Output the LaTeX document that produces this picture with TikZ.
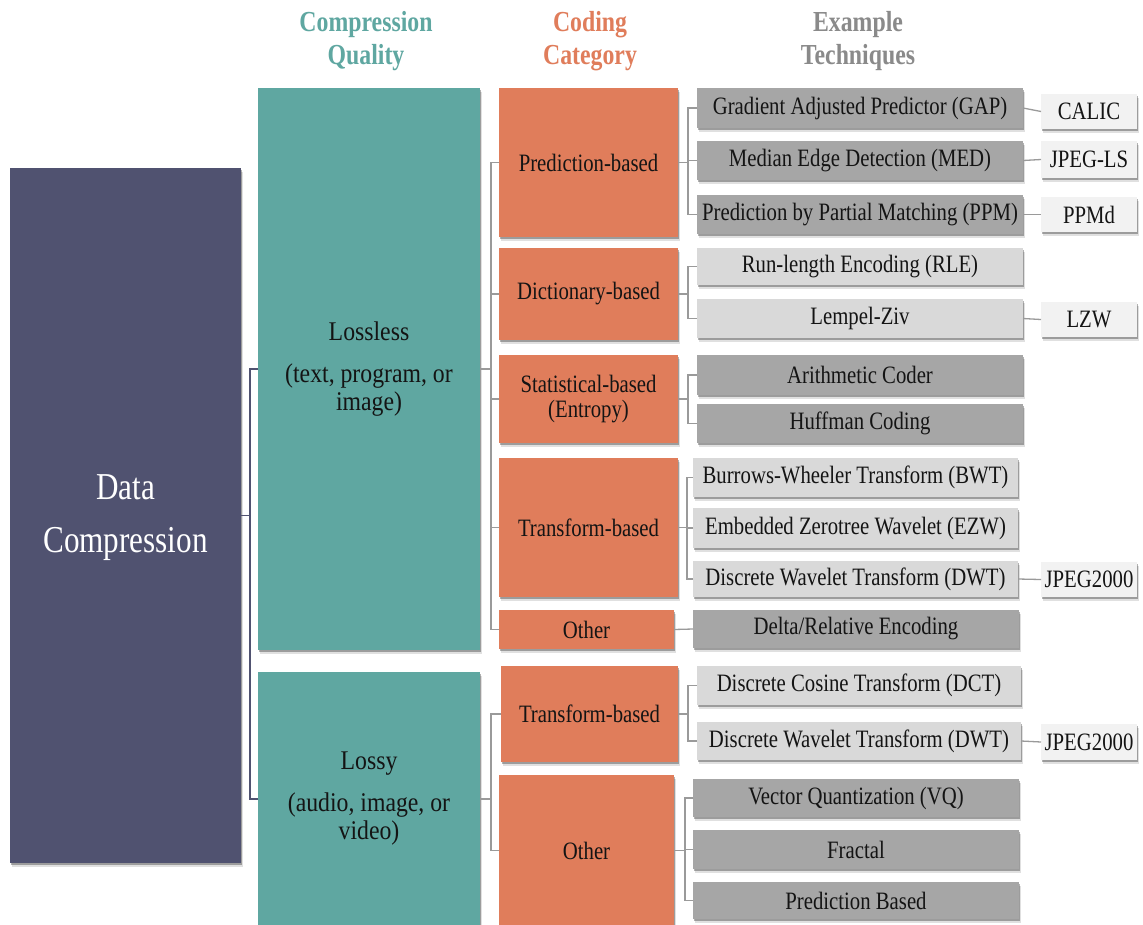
\documentclass[tikz,border=0pt]{standalone}
\usepackage{fontspec}
\setmainfont{Liberation Serif}
\newfontfamily\hdfont[FakeStretch=0.82]{Liberation Serif}
\newfontfamily\bodyfont[FakeStretch=0.83]{Liberation Serif}
\newfontfamily\midfont[FakeStretch=0.88]{Liberation Serif}
\newfontfamily\bigfont[FakeStretch=0.82]{Liberation Serif}
\usetikzlibrary{shadows}

\definecolor{dcpurple}{HTML}{505270}
\definecolor{qteal}{HTML}{5FA7A1}
\definecolor{corange}{HTML}{E07D5B}
\definecolor{tdark}{HTML}{A6A6A6}
\definecolor{tlight}{HTML}{D9D9D9}
\definecolor{outw}{HTML}{F2F2F2}
\definecolor{hgray}{HTML}{8A8A8A}
\definecolor{lnk}{HTML}{9A9A9A}
\definecolor{ink}{HTML}{141414}

% box placed by its corners: style, name, x1, y1, x2, y2, text
\newcommand\placebox[7]{%
  \node[#1, minimum width={#5-#3}, minimum height={#6-#4}] (#2)
    at ({(#3+#5)/2},{(#4+#6)/2}) {#7};}

\tikzset{
  shad/.style={
    drop shadow={shadow xshift=2pt, shadow yshift=-3.5pt, opacity=0.12, fill=black},
    drop shadow={shadow xshift=1.2pt, shadow yshift=-2pt, opacity=0.3, fill=black}},
  box/.style={inner sep=0pt, outer sep=0pt, align=center, shad, text=ink},
  dcbox/.style={box, fill=dcpurple, text=white, font=\bigfont\fontsize{38}{53}\selectfont},
  qbox/.style={box, fill=qteal, font=\midfont\fontsize{27}{28}\selectfont},
  cbox/.style={box, fill=corange, font=\bodyfont\fontsize{25}{25}\selectfont},
  tdbox/.style={box, fill=tdark, font=\bodyfont\fontsize{25}{25}\selectfont},
  tlbox/.style={box, fill=tlight, font=\bodyfont\fontsize{25}{25}\selectfont},
  obox/.style={box, fill=outw, font=\bodyfont\fontsize{25}{25}\selectfont},
  head/.style={align=center, inner sep=0pt, font=\hdfont\bfseries\fontsize{29}{33}\selectfont},
  conP/.style={draw=dcpurple, line width=1.5pt},
  conG/.style={draw=lnk, line width=1.3pt},
}

\begin{document}
\begin{tikzpicture}[x=1pt, y=-1pt]
\fill[white] (0,0) rectangle (1143,924);
\useasboundingbox (0,0) rectangle (1143,924);

% column headings
\node[head, text=qteal] (hq) at (366,41) {Compression\\Quality};
\node[head, text=corange] (hc) at (590,41) {Coding\\Category};
\node[head, text=hgray] (he) at (858,41) {Example\\Techniques};

% root
\placebox{dcbox}{dc}{10}{168}{241}{863}{\rule{0pt}{30pt}Data\\Compression}

% compression quality
\placebox{qbox}{lossless}{258}{88}{480}{650}{Lossless\\[14pt](text, program, or\\image)}
\placebox{qbox}{lossy}{258}{672}{480}{926}{Lossy\\[14pt](audio, image, or\\video)}

% coding categories
\placebox{cbox}{pred}{499}{88}{678}{237}{Prediction-based}
\placebox{cbox}{dict}{499}{248}{678}{340}{Dictionary-based}
\placebox{cbox}{stat}{499}{355}{678}{443}{Statistical-based\\(Entropy)}
\placebox{cbox}{trans}{499}{458}{678}{597}{Transform-based}
\placebox{cbox}{oth}{499}{610}{674}{649}{Other}
\placebox{cbox}{ltrans}{501}{666}{678}{762}{Transform-based}
\placebox{cbox}{loth}{499}{775}{674}{926}{Other}

% example techniques
\placebox{tdbox}{gap}{697}{88}{1023}{128}{Gradient Adjusted Predictor (GAP)}
\placebox{tdbox}{med}{697}{141}{1023}{180}{Median Edge Detection (MED)}
\placebox{tdbox}{ppm}{697}{195}{1023}{234}{Prediction by Partial Matching (PPM)}
\placebox{tlbox}{rle}{697}{248}{1023}{285}{Run-length Encoding (RLE)}
\placebox{tlbox}{lz}{697}{299}{1023}{338}{Lempel-Ziv}
\placebox{tdbox}{arith}{697}{355}{1023}{395}{Arithmetic Coder}
\placebox{tdbox}{huff}{697}{404}{1023}{443}{Huffman Coding}
\placebox{tlbox}{bwt}{693}{458}{1018}{497}{Burrows-Wheeler Transform (BWT)}
\placebox{tlbox}{ezw}{693}{508}{1018}{548}{Embedded Zerotree Wavelet (EZW)}
\placebox{tlbox}{dwt}{693}{561}{1018}{597}{Discrete Wavelet Transform (DWT)}
\placebox{tdbox}{delta}{693}{610}{1019}{648}{Delta/Relative Encoding}
\placebox{tlbox}{dct}{697}{666}{1021}{705}{Discrete Cosine Transform (DCT)}
\placebox{tlbox}{dwtb}{697}{722}{1021}{760}{Discrete Wavelet Transform (DWT)}
\placebox{tdbox}{vq}{693}{779}{1019}{817}{Vector Quantization (VQ)}
\placebox{tdbox}{frac}{693}{830}{1019}{869}{Fractal}
\placebox{tdbox}{pb}{693}{882}{1019}{919}{Prediction Based}

% standards
\placebox{obox}{calic}{1041}{94}{1137}{129}{CALIC}
\placebox{obox}{jls}{1041}{141}{1137}{178}{JPEG-LS}
\placebox{obox}{ppmd}{1041}{197}{1137}{232}{PPMd}
\placebox{obox}{lzw}{1041}{302}{1137}{337}{LZW}
\placebox{obox}{jpa}{1041}{562}{1137}{597}{JPEG2000}
\placebox{obox}{jpb}{1041}{724}{1137}{760}{JPEG2000}

% root -> quality
\coordinate (jq) at (250,515.5);
\draw[conP] (dc.east) -- (jq);
\draw[conP] (lossless.west) -| (jq);
\draw[conP] (lossy.west) -| (jq);

% quality -> categories
\coordinate (jc1) at (491,369);
\draw[conG] (lossless.east) -- (jc1);
\foreach \c in {pred,dict,stat,trans,oth} \draw[conG] (\c.west) -| (jc1);
\coordinate (jc2) at (491,799);
\draw[conG] (lossy.east) -- (jc2);
\foreach \c in {ltrans,loth} \draw[conG] (\c.west) -| (jc2);

% categories -> techniques
\draw[conG] (pred.east) -- ++(10,0) coordinate (jt1);
\foreach \t in {gap,med,ppm} \draw[conG] (\t.west) -| (jt1);
\draw[conG] (dict.east) -- ++(10,0) coordinate (jt2);
\foreach \t in {rle,lz} \draw[conG] (\t.west) -| (jt2);
\draw[conG] (stat.east) -- ++(10,0) coordinate (jt3);
\foreach \t in {arith,huff} \draw[conG] (\t.west) -| (jt3);
\draw[conG] (trans.east) -- ++(9,0) coordinate (jt4);
\foreach \t in {bwt,ezw,dwt} \draw[conG] (\t.west) -| (jt4);
\draw[conG] (oth.east) -- (delta.west);
\draw[conG] (ltrans.east) -- ++(10,0) coordinate (jt5);
\foreach \t in {dct,dwtb} \draw[conG] (\t.west) -| (jt5);
\draw[conG] (loth.east) -- ++(11,0) coordinate (jt6);
\foreach \t in {vq,frac,pb} \draw[conG] (\t.west) -| (jt6);

% techniques -> standards
\draw[conG] (gap.east) -- (calic.west);
\draw[conG] (med.east) -- (jls.west);
\draw[conG] (ppm.east) -- (ppmd.west);
\draw[conG] (lz.east) -- (lzw.west);
\draw[conG] (dwt.east) -- (jpa.west);
\draw[conG] (dwtb.east) -- (jpb.west);
\end{tikzpicture}
\end{document}
